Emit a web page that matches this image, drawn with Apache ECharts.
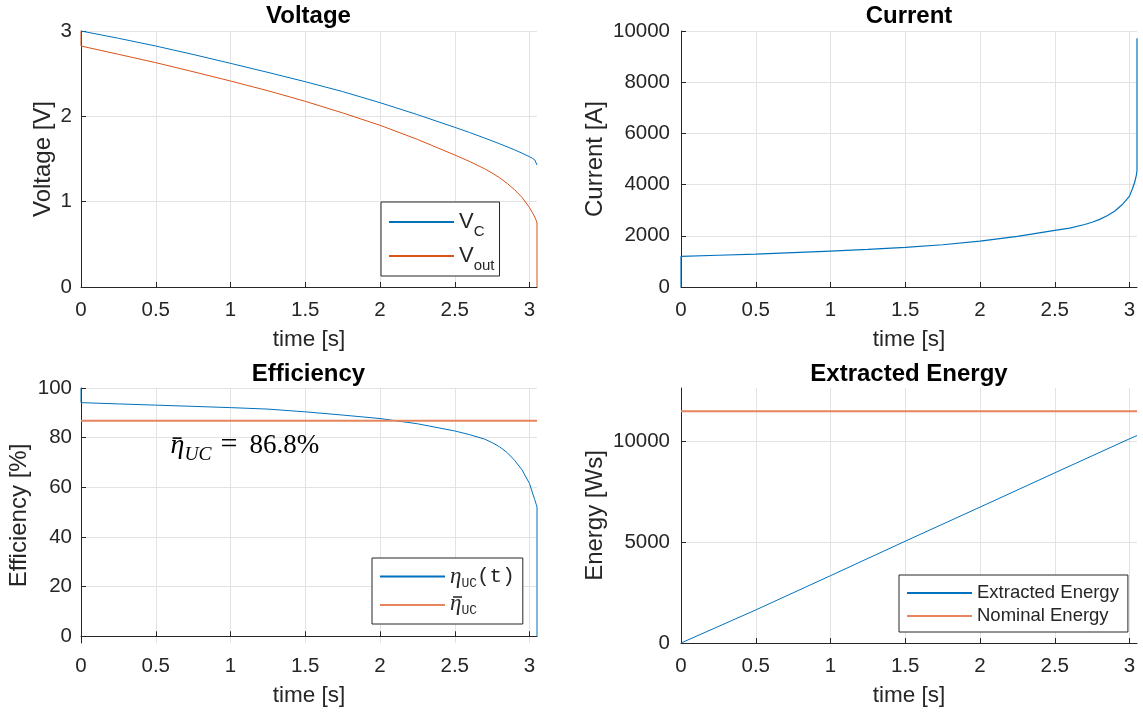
<!DOCTYPE html>
<html>
<head>
<meta charset="utf-8">
<script src="https://cdn.jsdelivr.net/npm/echarts@6/dist/echarts.min.js"></script>
<style>
  html, body { margin: 0; background: #fff; }
  #main { width: 1143px; height: 715px; }
</style>
</head>
<body>
<div id="main"></div>
<script>
// tick labels
const xTicks = [0, 0.5, 1, 1.5, 2, 2.5, 3]
const voltTicks = [0, 1, 2, 3]
const currentTicks = [0, 2000, 4000, 6000, 8000, 10000]
const effTicks = [0, 20, 40, 60, 80, 100]
const energyTicks = [0, 5000, 10000]

// sample times of the discharge (s)
const t = [0, 0.25, 0.5, 0.75, 1, 1.25, 1.5, 1.75, 2, 2.25, 2.5, 2.6, 2.7, 2.75, 2.8, 2.85, 2.9, 2.95, 3.0, 3.02, 3.035, 3.045, 3.05]

// voltages (V)
const vC = [3.0, 2.915, 2.824, 2.725, 2.621, 2.515, 2.406, 2.29, 2.16, 2.02, 1.871, 1.81, 1.745, 1.712, 1.678, 1.643, 1.607, 1.568, 1.527, 1.508, 1.49, 1.47, 1.43]
const vOut = [2.824, 2.727, 2.629, 2.523, 2.414, 2.3, 2.176, 2.04, 1.895, 1.73, 1.547, 1.47, 1.385, 1.335, 1.28, 1.215, 1.14, 1.05, 0.93, 0.87, 0.82, 0.78, 0.75]

// current (A)
const current = [1196, 1240, 1287, 1342, 1404, 1470, 1547, 1650, 1794, 1980, 2210, 2300, 2440, 2530, 2640, 2780, 2960, 3210, 3550, 3850, 4100, 4350, 4550]
const currentPeak = 9714

// efficiency (%)
const eff = [94.1, 93.6, 93.1, 92.6, 92.1, 91.5, 90.4, 89.1, 87.7, 85.6, 82.7, 81.2, 79.4, 78.0, 76.3, 74.0, 70.9, 67.0, 61.5, 57.7, 55.0, 53.1, 52.1]
const effMean = 86.8

// energy (Ws)
const tEnergy = [0, 0.5, 1, 1.5, 2, 2.5, 3, 3.05]
const energy = [0, 1640, 3340, 5050, 6740, 8440, 10130, 10290]
const nominalEnergy = 11500

const tEnd = 3.05
const blue = "#0072BD"
const orange = "#D95319"
const orangeThick = "#E8845C"
const ink = "#262626"
const gridColor = "#E3E3E3"
const sans = "Liberation Sans"
const serif = "Liberation Serif"
const mono = "Liberation Mono"

const zip = (xs, ys) => xs.map((x, i) => [x, ys[i]])

const grids = [
  { left: 81, top: 31, width: 456, height: 256 },
  { left: 681, top: 31, width: 456, height: 256 },
  { left: 81, top: 388, width: 456, height: 255 },
  { left: 681, top: 388, width: 456, height: 255 },
]

function xAxis(gridIndex) {
  return {
    type: "value", gridIndex, min: 0, max: tEnd,
    name: "time [s]", nameLocation: "middle", nameGap: 41,
    nameTextStyle: { fontFamily: sans, fontSize: 22.5, color: ink },
    axisLine: { lineStyle: { color: ink } },
    axisTick: { inside: true, length: 5, lineStyle: { color: ink }, customValues: xTicks },
    axisLabel: { fontFamily: sans, fontSize: 20.5, color: ink, margin: 13, customValues: xTicks },
    splitLine: { show: true, lineStyle: { color: gridColor } },
  }
}

function yAxis(gridIndex, name, nameGap, min, max, ticks, margin) {
  return {
    type: "value", gridIndex, min, max,
    name, nameLocation: "middle", nameGap,
    nameTextStyle: { fontFamily: sans, fontSize: 24, color: ink },
    axisLine: { show: true, lineStyle: { color: ink } },
    axisTick: { show: true, inside: true, length: 5, lineStyle: { color: ink }, customValues: ticks },
    axisLabel: { fontFamily: sans, fontSize: 20.5, color: ink, margin, customValues: ticks, formatter: v => String(v) },
    splitLine: { show: true, lineStyle: { color: gridColor } },
  }
}

const titleStyle = { fontFamily: sans, fontSize: 24, fontWeight: "bold", color: "#000" }
const legendBox = {
  orient: "vertical", backgroundColor: "#fff", borderColor: ink, borderWidth: 1, borderRadius: 0,
  itemWidth: 65, itemHeight: 14, selectedMode: false, itemStyle: { opacity: 0 },
}

const chart = echarts.init(document.getElementById("main"))
chart.setOption({
  animation: false,
  backgroundColor: "#fff",
  title: [
    { text: "Voltage", left: 308.5, top: 4, padding: 0, textAlign: "center", textStyle: titleStyle },
    { text: "Current", left: 909, top: 4, padding: 0, textAlign: "center", textStyle: titleStyle },
    { text: "Efficiency", left: 308.5, top: 362, padding: 0, textAlign: "center", textStyle: titleStyle },
    { text: "Extracted Energy", left: 909, top: 362, padding: 0, textAlign: "center", textStyle: titleStyle },
  ],
  grid: grids.map(g => ({ ...g, outerBoundsMode: "none" })),
  xAxis: [xAxis(0), xAxis(1), xAxis(2), xAxis(3)],
  yAxis: [
    yAxis(0, "Voltage [V]", 26, 0, 3, voltTicks, 9),
    yAxis(1, "Current [A]", 74, 0, 10000, currentTicks, 11),
    yAxis(2, "Efficiency [%]", 50, -2.7, 100, effTicks, 9),
    yAxis(3, "Energy [Ws]", 74, 0, 12650, energyTicks, 11),
  ],
  legend: [
    {
      ...legendBox, data: ["V_C", "V_out"], left: 381, top: 202, padding: [3, 5, 3, 7], itemGap: 0,
      formatter: n => n === "V_C" ? "{v|V}{s|C}" : "{v|V}{s|out}",
      textStyle: {
        color: ink,
        rich: {
          v: { fontFamily: sans, fontSize: 22, lineHeight: 28, color: ink },
          s: { fontFamily: sans, fontSize: 15, lineHeight: 28, padding: [19, 0, 0, 0], color: ink },
        },
      },
    },
    {
      ...legendBox, data: ["eta", "etaMean"], left: 372, top: 558, padding: [5, 8, 2, 7], itemGap: 1,
      formatter: n => n === "eta"
        ? "{e|η}{s|UC}{p|(t)}"
        : "{gap| }{bar| }\n{e2|η}{s2|UC}",
      textStyle: {
        color: ink,
        rich: {
          e: { fontFamily: serif, fontStyle: "italic", fontSize: 23, lineHeight: 24, color: ink },
          s: { fontFamily: mono, fontSize: 13, lineHeight: 24, padding: [14, 0, 0, 0], color: ink },
          p: { fontFamily: mono, fontSize: 21, lineHeight: 24, color: ink },
          gap: { width: 3, lineHeight: 4 },
          bar: { width: 9, height: 1.5, lineHeight: 4, backgroundColor: ink },
          e2: { fontFamily: serif, fontStyle: "italic", fontSize: 23, lineHeight: 16, padding: [0, 0, 7, 0], color: ink },
          s2: { fontFamily: mono, fontSize: 13, lineHeight: 16, padding: [8, 0, 0, 0], color: ink },
        },
      },
    },
    {
      ...legendBox, data: ["Extracted Energy", "Nominal Energy"], left: 899, top: 575, padding: [8, 9, 6, 7], itemGap: 3,
      textStyle: { fontFamily: sans, fontSize: 18.5, color: ink, lineHeight: 20 },
    },
  ],
  series: [
    {
      name: "V_C", type: "line", xAxisIndex: 0, yAxisIndex: 0, symbol: "none",
      lineStyle: { color: blue, width: 1 }, itemStyle: { color: blue },
      data: zip(t, vC),
    },
    {
      name: "V_out", type: "line", xAxisIndex: 0, yAxisIndex: 0, symbol: "none",
      lineStyle: { color: orange, width: 1 }, itemStyle: { color: orange },
      data: [[0, vC[0]], ...zip(t, vOut), [tEnd, 0]],
    },
    {
      name: "I", type: "line", xAxisIndex: 1, yAxisIndex: 1, symbol: "none",
      lineStyle: { color: blue, width: 1.2 }, itemStyle: { color: blue },
      data: [[0, 0], ...zip(t, current), [tEnd, currentPeak]],
    },
    {
      name: "eta", type: "line", xAxisIndex: 2, yAxisIndex: 2, symbol: "none",
      lineStyle: { color: blue, width: 1 }, itemStyle: { color: blue },
      data: [[0, 100], ...zip(t, eff), [tEnd, 0]],
    },
    {
      name: "etaMean", type: "line", xAxisIndex: 2, yAxisIndex: 2, symbol: "none",
      lineStyle: { color: orangeThick, width: 2 }, itemStyle: { color: orangeThick },
      data: [[0, effMean], [tEnd, effMean]],
      markPoint: {
        symbol: "circle", symbolSize: 1, itemStyle: { color: "rgba(0,0,0,0)" },
        label: {
          show: true, position: "right", distance: 0,
          formatter: "{gap| }{bar| }\n{e|η}{s|UC}{eq|=}{t|" + effMean + "%}",
          rich: {
            gap: { width: 2, lineHeight: 4 },
            bar: { width: 9, height: 1.6, lineHeight: 4, backgroundColor: "#000" },
            e: { fontFamily: serif, fontStyle: "italic", fontSize: 28, lineHeight: 11, color: "#000" },
            s: { fontFamily: serif, fontStyle: "italic", fontSize: 19.5, lineHeight: 11, padding: [19, 0, 0, 0], color: "#000" },
            eq: { fontFamily: serif, fontSize: 30, lineHeight: 11, padding: [0, 12, 0, 9], color: "#000" },
            t: { fontFamily: serif, fontSize: 27, lineHeight: 11, color: "#000" },
          },
        },
        data: [{ coord: [0.596, 77.6] }],
      },
    },
    {
      name: "Extracted Energy", type: "line", xAxisIndex: 3, yAxisIndex: 3, symbol: "none",
      lineStyle: { color: blue, width: 1 }, itemStyle: { color: blue },
      data: zip(tEnergy, energy),
    },
    {
      name: "Nominal Energy", type: "line", xAxisIndex: 3, yAxisIndex: 3, symbol: "none",
      lineStyle: { color: orangeThick, width: 2 }, itemStyle: { color: orangeThick },
      data: [[0, nominalEnergy], [tEnd, nominalEnergy]],
    },
  ],
})
</script>
</body>
</html>
